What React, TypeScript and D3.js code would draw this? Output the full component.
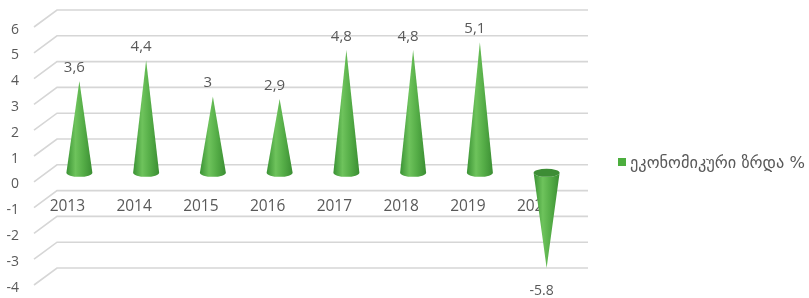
import React, { useEffect, useRef } from 'react';
import * as d3 from 'd3';

const years = ['2013', '2014', '2015', '2016', '2017', '2018', '2019', '2020'];
const growth = [3.6, 4.4, 3, 2.9, 4.8, 4.8, 5.1, -5.8];
const valueLabels = ['3,6', '4,4', '3', '2,9', '4,8', '4,8', '5,1', '-5.8'];
const yTicks = [6, 5, 4, 3, 2, 1, 0, -1, -2, -3, -4];
const seriesName = 'ეკონომიკური ზრდა %';

const App = () => {
    const chartRef = useRef<SVGSVGElement | null>(null);

    useEffect(() => {
        const width = 809;
        const height = 298;
        const back = { left: 57, right: 588 };
        const depth = { dx: 23, dy: 17 };
        const textColor = '#595959';
        const font = '"Open Sans", sans-serif';

        const svg = d3.select(chartRef.current);
        svg.selectAll('*').remove();
        svg.attr('width', width).attr('height', height);

        const defs = svg.append('defs');
        const grad = defs.append('linearGradient').attr('id', 'coneGrad')
            .attr('x1', '0%').attr('x2', '100%').attr('y1', '0%').attr('y2', '0%');
        [['0%', '#3a9234'], ['35%', '#6ec35c'], ['65%', '#55ad47'], ['100%', '#3b8e33']]
            .forEach(([o, c]) => grad.append('stop').attr('offset', o).attr('stop-color', c));

        const y = d3.scaleLinear().domain([-4, 6]).range([268, 10]);
        const x = d3.scaleBand().domain(years).range([46, 580]).padding(0);
        const cx = (d: string) => (x(d) as number) + x.bandwidth() / 2;

        // gridlines: side wall diagonal + back wall horizontal
        svg.append('g').selectAll('path')
            .data(yTicks)
            .enter().append('path')
            .attr('d', d => `M${back.left - depth.dx},${y(d) + depth.dy}L${back.left},${y(d)}L${back.right},${y(d)}`)
            .attr('fill', 'none')
            .attr('stroke', '#d6d6d6')
            .attr('stroke-width', 1.6);

        svg.append('g').selectAll('text')
            .data(yTicks)
            .enter().append('text')
            .attr('x', 19)
            .attr('y', d => y(d) + 18)
            .attr('text-anchor', 'end')
            .attr('dominant-baseline', 'central')
            .style('font-family', font)
            .style('font-size', '14px')
            .style('fill', textColor)
            .text(d => d);

        svg.append('g').selectAll('text')
            .data(years)
            .enter().append('text')
            .attr('x', d => cx(d) - 12)
            .attr('y', y(0) + 40)
            .attr('text-anchor', 'middle')
            .attr('dominant-baseline', 'central')
            .style('font-family', font)
            .style('font-size', '15.5px')
            .style('fill', textColor)
            .text(d => d);

        const rx = 13;
        const ry = 4;
        const baseY = y(0) + 8;
        const cones = svg.append('g');
        years.forEach((yr, i) => {
            const v = growth[i];
            const c = cx(yr);
            const apex = Math.min(y(v) + 9, y(-4));
            cones.append('path')
                .attr('d', `M${c - rx},${baseY}L${c},${apex}L${c + rx},${baseY}A${rx},${ry} 0 0 1 ${c - rx},${baseY}Z`)
                .attr('fill', 'url(#coneGrad)');
            if (v < 0) {
                cones.append('ellipse')
                    .attr('cx', c).attr('cy', baseY)
                    .attr('rx', rx).attr('ry', ry)
                    .attr('fill', '#3d8d35');
            }
            cones.append('text')
                .attr('x', c - 5)
                .attr('y', v < 0 ? apex + 21 : apex - 15)
                .attr('text-anchor', 'middle')
                .attr('dominant-baseline', 'central')
                .style('font-family', font)
                .style('font-size', v < 0 ? '14px' : '15px')
                .style('fill', textColor)
                .text(valueLabels[i]);
        });

        const legend = svg.append('g').attr('transform', 'translate(618, 162)');
        legend.append('rect')
            .attr('x', 0).attr('y', -4)
            .attr('width', 8).attr('height', 8)
            .attr('fill', '#4cae3e');
        legend.append('text')
            .attr('x', 12)
            .attr('y', 0)
            .attr('dominant-baseline', 'central')
            .attr('textLength', 175)
            .attr('lengthAdjust', 'spacingAndGlyphs')
            .style('font-family', '"DejaVu Sans", sans-serif')
            .style('font-size', '16px')
            .style('fill', textColor)
            .text(seriesName);
    }, []);

    return (
        <div style={{ position: 'fixed', left: 0, top: 0 }}>
            <svg ref={chartRef} style={{ display: 'block' }} />
        </div>
    );
};

export default App;
